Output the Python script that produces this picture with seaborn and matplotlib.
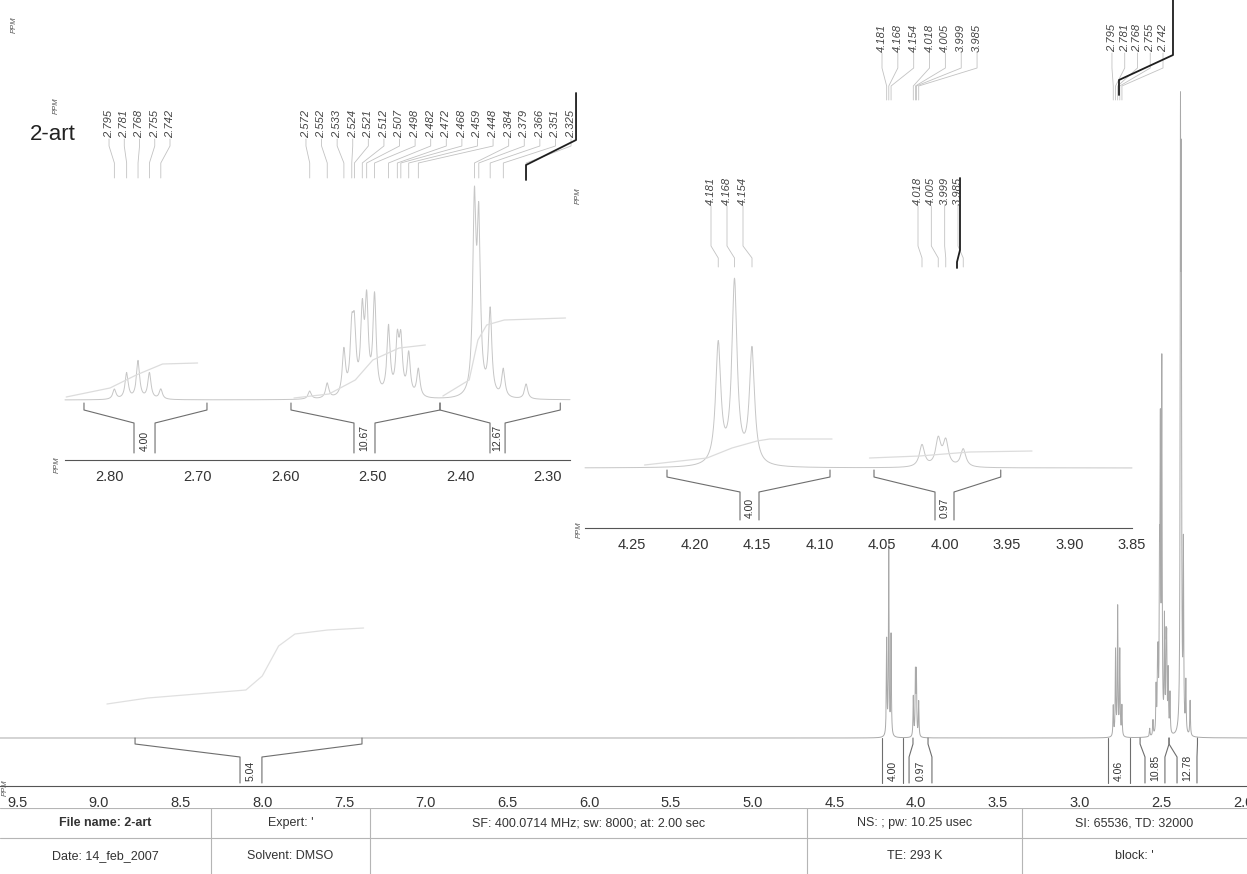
import numpy as np
import pandas as pd
import matplotlib
matplotlib.use("Agg")
import matplotlib.pyplot as plt
from matplotlib.ticker import MultipleLocator, FixedLocator, FixedFormatter
import seaborn as sns

# ---------------- data ----------------
ch2_ppm = [4.181, 4.168, 4.154]
ch_ppm = [4.018, 4.005, 3.999, 3.985]
quint_ppm = [2.795, 2.781, 2.768, 2.755, 2.742]
m25_ppm = [2.572, 2.552, 2.533, 2.524, 2.521, 2.512, 2.507, 2.498,
           2.482, 2.472, 2.468, 2.459, 2.448]
m23_ppm = [2.384, 2.379, 2.366, 2.351, 2.325]

# line heights, main spectrum (arbitrary units)
main_ch2_h = [95, 188, 100]
main_ch_h = [40, 62, 62, 35]
main_quint_h = [30, 85, 128, 85, 30]
main_m25_h = [8, 15, 45, 55, 55, 150, 280, 360, 110, 80, 80, 60, 40]
main_m23_h = [560, 500, 180, 50, 35]

# line heights, expansion 2.85-2.27 ppm
ins1_quint_h = [10, 26, 38, 26, 10]
ins1_m25_h = [8, 15, 45, 58, 58, 78, 88, 98, 68, 52, 52, 42, 28]
ins1_m23_h = [185, 165, 85, 28, 15]

# line heights, expansion 4.29-3.85 ppm
ins2_ch2_h = [120, 182, 115]
ins2_ch_h = [22, 27, 25, 18]

# integrals: label, outer left, left stem, right stem, outer right (ppm)
main_int_labels = ["5.04", "4.00", "0.97", "4.06", "10.85", "12.78"]
main_int_left = [8.778, 4.209, 4.020, 2.827, 2.631, 2.454]
main_int_lstem = [8.136, 4.209, 4.044, 2.827, 2.601, 2.405]
main_int_rstem = [8.002, 4.081, 3.904, 2.693, 2.479, 2.283]
main_int_right = [7.390, 4.081, 3.928, 2.693, 2.454, 2.280]

ins1_int_labels = ["4.00", "10.67", "12.67"]
ins1_int_left = [2.8297, 2.5934, 2.4233]
ins1_int_lstem = [2.7726, 2.5215, 2.3662]
ins1_int_rstem = [2.7486, 2.4975, 2.3490]
ins1_int_right = [2.6893, 2.4233, 2.2860]

ins2_int_labels = ["4.00", "0.97"]
ins2_int_left = [4.222, 4.0564]
ins2_int_lstem = [4.1636, 4.0076]
ins2_int_rstem = [4.1484, 3.9924]
ins2_int_right = [4.0916, 3.955]

# faint integral curves
main_trace_ppm = [8.95, 8.70, 8.40, 8.10, 8.00, 7.90, 7.80, 7.60, 7.38]
main_trace_h = [34, 40, 44, 48, 62, 92, 104, 108, 110]
ins1_trace1_ppm = [2.85, 2.80, 2.77, 2.74, 2.70]
ins1_trace1_h = [3, 12, 25, 36, 37]
ins1_trace2_ppm = [2.59, 2.55, 2.52, 2.50, 2.47, 2.44]
ins1_trace2_h = [2, 6, 20, 40, 52, 55]
ins1_trace3_ppm = [2.42, 2.39, 2.38, 2.37, 2.35, 2.28]
ins1_trace3_h = [4, 20, 60, 75, 80, 82]
ins2_trace1_ppm = [4.24, 4.19, 4.17, 4.15, 4.14, 4.09]
ins2_trace1_h = [3, 10, 20, 27, 29, 29]
ins2_trace2_ppm = [4.06, 4.02, 4.00, 3.98, 3.93]
ins2_trace2_h = [10, 12, 14, 16, 17]

# axis ticks
main_ticks = [9.5, 9.0, 8.5, 8.0, 7.5, 7.0, 6.5, 6.0, 5.5, 5.0, 4.5, 4.0, 3.5, 3.0, 2.5, 2.0]
ins1_ticks = [2.80, 2.70, 2.60, 2.50, 2.40, 2.30]
ins2_ticks = [4.25, 4.20, 4.15, 4.10, 4.05, 4.00, 3.95, 3.90, 3.85]

# parameter table
table_row1 = ["File name: 2-art", "Expert: '", "SF: 400.0714 MHz; sw: 8000; at: 2.00 sec",
              "NS: ; pw: 10.25 usec", "SI: 65536, TD: 32000"]
table_row2 = ["Date: 14_feb_2007", "Solvent: DMSO", "", "TE: 293 K", "block: '"]

# ---------------- layout (pixels) ----------------
W, H = 1247, 874
MAIN_BASE, MAIN_AXIS = 738, 786
I1_X0, I1_X1, I1_TOP, I1_BASE, I1_AXIS = 65, 570, 80, 400, 460
I2_X0, I2_X1, I2_TOP, I2_BASE, I2_AXIS = 585, 1132, 165, 468, 528
TAB_TOP, TAB_MID = 808, 838
TAB_COLS = [0, 211, 370, 807, 1022, 1247]

SPEC_MAIN = "#a9a9a9"
SPEC_INS = "#c6c6c6"
TXT = "#333333"
AXC = "#555555"

sns.set_theme(style="white")
plt.rcParams['font.family'] = ['Liberation Sans', 'DejaVu Sans']

fig = plt.figure(figsize=(W / 100, H / 100), dpi=100)
fig.patch.set_facecolor("white")


def rect(x0, x1, ytop, ybot):
    return [x0 / W, 1 - ybot / H, (x1 - x0) / W, (ybot - ytop) / H]


def spectrum(grid, centers, heights, hw):
    y = np.zeros_like(grid)
    for c, h in zip(centers, heights):
        y += h / (1.0 + ((grid - c) / hw) ** 2)
    return y


def style_axis(ax, ticks, fmt, minor, labelsize=10.5):
    for s in ["left", "right", "top"]:
        ax.spines[s].set_visible(False)
    ax.spines["bottom"].set_color(AXC)
    ax.spines["bottom"].set_linewidth(0.8)
    ax.set_yticks([])
    ax.xaxis.set_major_locator(FixedLocator(ticks))
    ax.xaxis.set_major_formatter(FixedFormatter([fmt % t for t in ticks]))
    ax.xaxis.set_minor_locator(MultipleLocator(minor))
    ax.tick_params(axis="x", which="major", direction="out", length=6, width=0.8,
                   color=AXC, labelsize=labelsize, labelcolor=TXT, pad=1)
    ax.tick_params(axis="x", which="minor", direction="out", length=3, width=0.6, color=AXC)
    ax.set_xlabel("")
    ax.set_ylabel("")
    ax.set_facecolor("none")


def brackets(ax, labels, L, cL, cR, R, lvl):
    top, hook, mid, bot = lvl
    for lab, a, b, c, d in zip(labels, L, cL, cR, R):
        ax.plot([a, a, b, b], [top, hook, mid, bot], color="#6e6e6e", lw=0.8, clip_on=False)
        ax.plot([d, d, c, c], [top, hook, mid, bot], color="#6e6e6e", lw=0.8, clip_on=False)
        ax.text((b + c) / 2, bot + 2, lab, rotation=90, ha="center", va="bottom",
                fontsize=7.5, color=TXT, clip_on=False)


def peak_labels(ax, base, lbl_pos, peaks, y_txt, y1, y2, y3):
    for lp, pk in zip(lbl_pos, peaks):
        ax.text(lp, base - y_txt, "%.3f" % pk, rotation=90, ha="center", va="bottom",
                fontsize=8, style="italic", color="#444444", clip_on=False)
        ax.plot([lp, lp, pk, pk], [base - y_txt - 1, base - y1, base - y2, base - y3],
                color="#c2c2c2", lw=0.6, clip_on=False)


def dark_line(ax, base, xt, xb, ys):
    ax.plot([xt, xt, xb, xb], [base - ys[0], base - ys[1], base - ys[2], base - ys[3]],
            color="#1e1e1e", lw=1.3, clip_on=False)


def fig_text(x, y, s, **kw):
    fig.text(x / W, 1 - y / H, s, **kw)


# ---------------- main spectrum ----------------
ax = fig.add_axes(rect(0, W, 0, MAIN_AXIS))
ppm_px0 = 9.5 + 17 / 163.5
ppm_px1 = 9.5 - (W - 17) / 163.5
grid = np.linspace(ppm_px1, ppm_px0, 60000)
main_y = spectrum(grid, ch2_ppm + ch_ppm + quint_ppm + m25_ppm + m23_ppm,
                  main_ch2_h + main_ch_h + main_quint_h + main_m25_h + main_m23_h, 0.0022)
df_main = pd.DataFrame({"ppm": grid, "intensity": main_y})
sns.lineplot(data=df_main, x="ppm", y="intensity", ax=ax, color=SPEC_MAIN,
             linewidth=0.7, estimator=None)
sns.lineplot(x=main_trace_ppm, y=main_trace_h, ax=ax, color="#e0e0e0", linewidth=0.9,
             estimator=None)
ax.set_xlim(ppm_px0, ppm_px1)
ax.set_ylim(MAIN_BASE - MAIN_AXIS, MAIN_BASE)
style_axis(ax, main_ticks, "%.1f", 0.05)
brackets(ax, main_int_labels, main_int_left, main_int_lstem, main_int_rstem,
         main_int_right, (0, -6, -19, -45))

# top-right peak labels of the main spectrum
lbl_a = np.linspace(4.2095, 3.628, len(ch2_ppm + ch_ppm))
peak_labels(ax, MAIN_BASE, lbl_a, ch2_ppm + ch_ppm, 52, 68, 86, 100)
lbl_b = np.linspace(2.803, 2.4908, len(quint_ppm))
peak_labels(ax, MAIN_BASE, lbl_b, quint_ppm, 52, 68, 86, 100)
dark_line(ax, MAIN_BASE, 2.4297, 2.760, (0, 55, 80, 95))

# ---------------- expansion 1 (2.85 - 2.27 ppm) ----------------
ax1 = fig.add_axes(rect(I1_X0, I1_X1, I1_TOP, I1_AXIS))
s1 = 2.80 + (110 - I1_X0) / 876.0
e1 = 2.80 - (I1_X1 - 110) / 876.0
g1 = np.linspace(2.2635, 2.857, 20000)
y1 = spectrum(g1, quint_ppm + m25_ppm + m23_ppm,
              ins1_quint_h + ins1_m25_h + ins1_m23_h, 0.0022)
sns.lineplot(x=g1, y=y1, ax=ax1, color=SPEC_INS, linewidth=0.7, estimator=None)
ax1.lines[-1].set_clip_on(False)
for tp, th in [(ins1_trace1_ppm, ins1_trace1_h), (ins1_trace2_ppm, ins1_trace2_h),
               (ins1_trace3_ppm, ins1_trace3_h)]:
    sns.lineplot(x=tp, y=th, ax=ax1, color="#dcdcdc", linewidth=0.9, estimator=None)
ax1.set_xlim(s1, e1)
ax1.set_ylim(I1_BASE - I1_AXIS, I1_BASE - I1_TOP)
style_axis(ax1, ins1_ticks, "%.2f", 0.01)
brackets(ax1, ins1_int_labels, ins1_int_left, ins1_int_lstem, ins1_int_rstem,
         ins1_int_right, (-3, -10, -23, -53))
peak_labels(ax1, I1_BASE, np.linspace(2.8011, 2.7315, len(quint_ppm)), quint_ppm,
            138, 146, 163, 178)
peak_labels(ax1, I1_BASE, np.linspace(2.5763, 2.2737, len(m25_ppm + m23_ppm)),
            m25_ppm + m23_ppm, 138, 146, 163, 178)
dark_line(ax1, I1_BASE, 2.2680, 2.3251, (93, 140, 165, 180))

# ---------------- expansion 2 (4.29 - 3.85 ppm) ----------------
ax2 = fig.add_axes(rect(I2_X0, I2_X1, I2_TOP, I2_AXIS))
s2 = 4.25 + (632 - I2_X0) / 1250.0
e2 = 4.25 - (I2_X1 - 632) / 1250.0
g2 = np.linspace(3.85, 4.298, 20000)
y2 = spectrum(g2, ch2_ppm + ch_ppm, ins2_ch2_h + ins2_ch_h, 0.0025)
sns.lineplot(x=g2, y=y2, ax=ax2, color=SPEC_INS, linewidth=0.7, estimator=None)
ax2.lines[-1].set_clip_on(False)
for tp, th in [(ins2_trace1_ppm, ins2_trace1_h), (ins2_trace2_ppm, ins2_trace2_h)]:
    sns.lineplot(x=tp, y=th, ax=ax2, color="#dcdcdc", linewidth=0.9, estimator=None)
ax2.set_xlim(s2, e2)
ax2.set_ylim(I2_BASE - I2_AXIS, I2_BASE - I2_TOP)
style_axis(ax2, ins2_ticks, "%.2f", 0.005)
brackets(ax2, ins2_int_labels, ins2_int_left, ins2_int_lstem, ins2_int_rstem,
         ins2_int_right, (-2, -9, -24, -52))
peak_labels(ax2, I2_BASE, np.linspace(4.1868, 4.1612, len(ch2_ppm)), ch2_ppm,
            205, 246, 258, 267)
peak_labels(ax2, I2_BASE, np.linspace(4.0212, 3.9892, len(ch_ppm)), ch_ppm,
            205, 246, 258, 267)
dark_line(ax2, I2_BASE, 3.9876, 3.990, (178, 250, 262, 268))

# ---------------- titles and PPM marks ----------------
fig_text(30, 140, "2-art", fontsize=16, color="#222222", ha="left", va="baseline")
ppm_kw = dict(rotation=90, fontsize=5.5, style="italic", color="#555555",
              ha="center", va="center")
fig_text(14, 25, "PPM", **ppm_kw)
fig_text(56, 106, "PPM", **ppm_kw)
fig_text(578, 196, "PPM", **ppm_kw)
fig_text(57, I1_AXIS + 5, "PPM", **ppm_kw)
fig_text(579, I2_AXIS + 2, "PPM", **ppm_kw)
fig_text(5, MAIN_AXIS + 2, "PPM", **ppm_kw)

# ---------------- parameter table ----------------
axt = fig.add_axes(rect(0, W, TAB_TOP, H))
axt.set_xlim(0, W)
axt.set_ylim(H, TAB_TOP)
axt.axis("off")
axt.plot([0, W], [TAB_TOP, TAB_TOP], color="#b5b5b5", lw=0.8)
axt.plot([0, W], [TAB_MID, TAB_MID], color="#b5b5b5", lw=0.8)
for cx in TAB_COLS[1:-1]:
    axt.plot([cx, cx], [TAB_TOP, H], color="#b5b5b5", lw=0.8)
row1_y = (TAB_TOP + TAB_MID) / 2
row2_y = (TAB_MID + H) / 2
for i, (t1, t2) in enumerate(zip(table_row1, table_row2)):
    cx = (TAB_COLS[i] + TAB_COLS[i + 1]) / 2
    axt.text(cx, row1_y, t1, ha="center", va="center", fontsize=9, color=TXT,
             fontweight="bold" if i == 0 else "normal")
    axt.text(cx, row2_y, t2, ha="center", va="center", fontsize=9, color=TXT)

fig.savefig("out.png", dpi=100, facecolor="white")
